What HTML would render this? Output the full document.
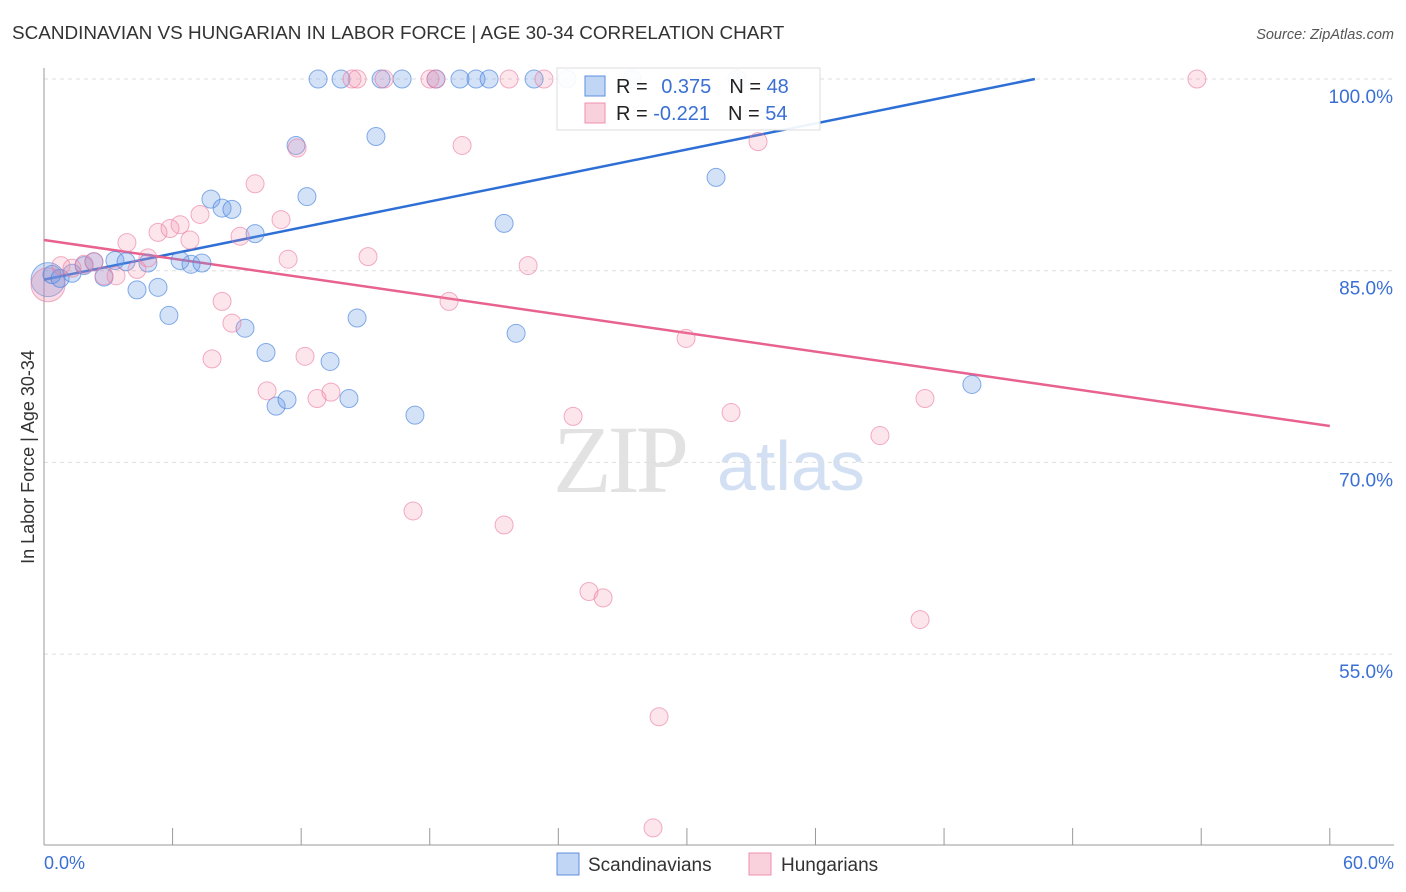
<!DOCTYPE html>
<html><head><meta charset="utf-8"><style>
body{margin:0;background:#fff;font-family:"Liberation Sans",sans-serif;}
</style></head><body>
<svg id="chart" width="1406" height="892" style="display:block">
<text x="12" y="39" font-size="18.9" fill="#333">SCANDINAVIAN VS HUNGARIAN IN LABOR FORCE | AGE 30-34 CORRELATION CHART</text>
<text x="1394" y="39" font-size="14.5" fill="#555" text-anchor="end" font-style="italic">Source: ZipAtlas.com</text>
<g>
<text x="553" y="492" font-size="96" font-family="Liberation Serif,serif" fill="#e2e2e2" letter-spacing="-4">ZIP</text>
<text x="717" y="490" font-size="70" fill="#d3e0f3">atlas</text>
</g>
<g id="grid"></g><g id="axes"></g><g id="lines"></g><g id="pts"></g>
<text transform="translate(34,457) rotate(-90)" font-size="18" fill="#333" text-anchor="middle">In Labor Force | Age 30-34</text>
<text x="44" y="869" font-size="18" fill="#3a6fd4">0.0%</text>
<text x="1394" y="869" font-size="18" fill="#3a6fd4" text-anchor="end">60.0%</text>
<g>
<rect x="557" y="68" width="263" height="62" fill="rgba(255,255,255,0.92)" stroke="#ddd"/>
<rect x="585" y="76" width="20" height="20" fill="rgba(100,150,230,0.4)" stroke="#5b8fdf"/>
<rect x="585" y="103" width="20" height="20" fill="rgba(240,140,170,0.4)" stroke="#f08fae"/>
<text x="616" y="93" font-size="20" fill="#222">R = <tspan fill="#3a6fd4" dx="8">0.375</tspan><tspan dx="18" fill="#222">N = </tspan><tspan fill="#3a6fd4">48</tspan></text>
<text x="616" y="120" font-size="20" fill="#222">R = <tspan fill="#3a6fd4">-0.221</tspan><tspan dx="18" fill="#222">N = </tspan><tspan fill="#3a6fd4">54</tspan></text>
</g>
<g>
<rect x="557" y="853" width="22" height="22" fill="rgba(100,150,230,0.4)" stroke="#5b8fdf"/>
<text x="588" y="871" font-size="19" fill="#333">Scandinavians</text>
<rect x="749" y="853" width="22" height="22" fill="rgba(240,140,170,0.4)" stroke="#f08fae"/>
<text x="781" y="871" font-size="19" fill="#333">Hungarians</text>
</g>
</svg>
<script>
const yTicks=[100,85,70,55];
const yTickLabels=["100.0%","85.0%","70.0%","55.0%"];
const xTicks=[0,6,12,18,24,30,36,42,48,54,60];
const blueX=[12.79,13.86,15.73,16.71,18.29,19.41,20.16,20.77,22.87,24.41,27.44,32.34,11.76,15.49,12.27,7.79,8.31,8.77,9.85,21.47,31.36,0.37,0.75,1.31,1.87,2.33,2.80,3.31,3.83,4.85,6.35,6.86,7.37,4.34,5.32,5.83,9.38,10.36,13.35,14.61,22.03,10.83,11.34,14.23,17.31,43.30];
const blueY=[100,100,100,100,100,100,100,100,100,100,100,100,94.8,95.5,90.8,90.6,89.9,89.8,87.9,88.7,92.3,84.7,84.4,84.8,85.4,85.7,84.5,85.8,85.7,85.6,85.8,85.5,85.6,83.5,83.7,81.5,80.5,78.6,77.9,81.3,80.1,74.4,74.9,75.0,73.7,76.1];
const pinkX=[14.37,14.61,15.87,18.01,18.29,21.70,23.33,53.80,11.81,19.51,33.32,9.85,11.06,7.28,6.35,5.32,5.88,6.81,9.15,3.87,4.85,11.39,15.12,22.59,0.79,1.31,1.87,2.33,2.80,3.36,4.34,8.31,8.77,18.90,29.96,7.84,12.18,10.41,12.74,13.39,24.69,32.06,41.11,39.01,17.22,21.47,25.43,26.09,40.88,28.70,28.42];
const pinkY=[100,100,100,100,100,100,100,100,94.6,94.8,95.1,91.8,89.0,89.4,88.6,88.0,88.3,87.4,87.7,87.2,86.0,85.9,86.1,85.4,85.4,85.2,85.5,85.7,84.6,84.6,85.1,82.6,80.9,82.6,79.7,78.1,78.3,75.6,75.0,75.5,73.6,73.9,75.0,72.1,66.2,65.1,59.9,59.4,57.7,50.1,41.4];
const bigX=[0.19];const bigBlueY=[84.3];const bigPinkY=[83.9];
const blueTrend=[84.3,100.0];const blueTrendX=[0,46.24];
const pinkTrend=[87.4,72.85];const pinkTrendX=[0,60];
const NS="http://www.w3.org/2000/svg";
const X=v=>44+v*21.43, Y=v=>79+(100-v)*12.78;
function mk(t,a,p){const e=document.createElementNS(NS,t);for(const k in a)e.setAttribute(k,a[k]);document.getElementById(p).appendChild(e);return e;}
yTicks.forEach((t,i)=>{
 const l=mk('line',{x1:44,x2:1394,y1:Y(t),y2:Y(t),stroke:'#ddd','stroke-dasharray':'4,4'},'grid');
 
 
 const tx=mk('text',{x:1393,y:Y(t)+24,'font-size':19,fill:'#3a6fd4','text-anchor':'end'},'grid');
 tx.textContent=yTickLabels[i];
 
 
});
const ax=mk('line',{x1:44,x2:44,y1:68,y2:845,stroke:'#999'},'axes');


const bx=mk('line',{x1:44,x2:1394,y1:845,y2:845,stroke:'#999'},'axes');


xTicks.forEach(t=>{const l=mk('line',{x1:X(t),x2:X(t),y1:828,y2:845,stroke:'#999'},'axes');
 
 });
const bl=mk('line',{x1:X(blueTrendX[0]),y1:Y(blueTrend[0]),x2:X(blueTrendX[1]),y2:Y(blueTrend[1]),stroke:'#2e6fd6','stroke-width':2.5},'lines');


const pl=mk('line',{x1:X(pinkTrendX[0]),y1:Y(pinkTrend[0]),x2:X(pinkTrendX[1]),y2:Y(pinkTrend[1]),stroke:'#e8628f','stroke-width':2.5},'lines');


const bc=mk('circle',{cx:X(bigX[0]),cy:Y(bigBlueY[0]),r:17,fill:'rgba(100,150,230,0.3)',stroke:'rgba(70,130,220,0.6)'},'pts');


const pc=mk('circle',{cx:X(bigX[0]),cy:Y(bigPinkY[0]),r:17,fill:'rgba(240,140,170,0.3)',stroke:'rgba(235,120,160,0.6)'},'pts');


blueX.forEach((v,i)=>{const c=mk('circle',{cx:X(v),cy:Y(blueY[i]),r:9,fill:'rgba(100,150,230,0.28)',stroke:'rgba(70,130,220,0.65)'},'pts');
 
 });
pinkX.forEach((v,i)=>{const c=mk('circle',{cx:X(v),cy:Y(pinkY[i]),r:9,fill:'rgba(240,140,170,0.22)',stroke:'rgba(235,120,160,0.6)'},'pts');
 
 });
</script>
</body></html>
